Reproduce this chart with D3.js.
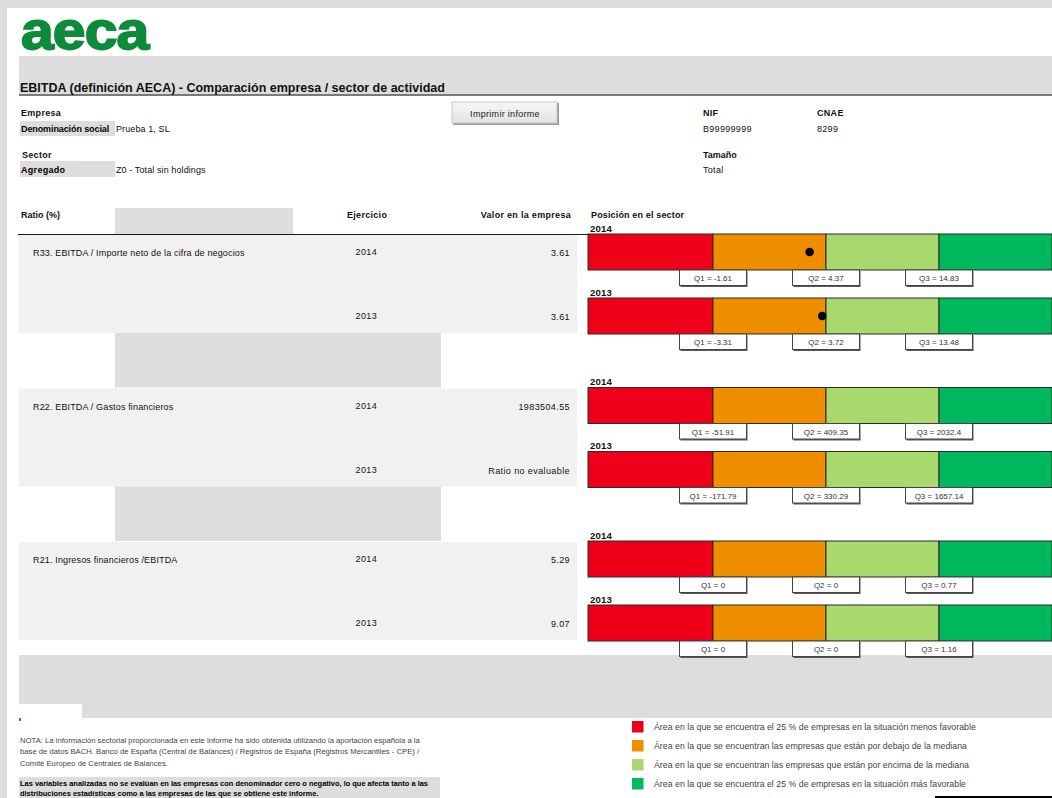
<!DOCTYPE html>
<html lang="es">
<head>
<meta charset="utf-8">
<title>EBITDA (definición AECA) - Comparación empresa / sector de actividad</title>
<script src="https://cdn.jsdelivr.net/npm/d3@7"></script>
<style>
  html, body { margin: 0; padding: 0; background: #ffffff; overflow: hidden; }
  svg { display: block; font-family: "Liberation Sans", Arial, sans-serif; }
</style>
</head>
<body>
<script>
// ---- Data ---------------------------------------------------------------
const ratioNames = [
  "R33. EBITDA / Importe neto de la cifra de negocios",
  "R22. EBITDA / Gastos financieros",
  "R21. Ingresos financieros /EBITDA"
];
const years = ["2014", "2013"];
// company value per ratio and year (null = not evaluable)
const companyValues = [[3.61, 3.61], [1983504.55, null], [5.29, 9.07]];
// sector quartiles per ratio and year
const q1Values = [[-1.61, -3.31], [-51.91, -171.79], [0, 0]];
const q2Values = [[4.37, 3.72], [409.35, 330.29], [0, 0]];
const q3Values = [[14.83, 13.48], [2032.4, 1657.14], [0.77, 1.16]];
const quartileNames = ["Q1", "Q2", "Q3"];

const zoneColors = ["#ee0019", "#ef8f00", "#a9d86e", "#00b95f"];
const legendLabels = [
  "Área en la que se encuentra el 25 % de empresas en la situación menos favorable",
  "Área en la que se encuentran las empresas que están por debajo de la mediana",
  "Área en la que se encuentran las empresas que están por encima de la mediana",
  "Área en la que se encuentra el 25 % de empresas en la situación más favorable"
];

const notaLines = [
  "NOTA: La información sectorial proporcionada en este informe ha sido obtenida utilizando la aportación española  a la",
  "base de datos BACH. Banco de España (Central de Balances) / Registros de España (Registros Mercantiles - CPE) /",
  "Comité Europeo de Centrales de Balances."
];
const avisoLines = [
  "Las variables analizadas no se evalúan en las empresas con denominador cero o negativo, lo que afecta tanto a las",
  "distribuciones estadísticas como a las empresas de las que se obtiene este informe."
];

// ---- Layout -------------------------------------------------------------
const W = 1052, H = 798;
const svg = d3.select("body").append("svg").attr("width", W).attr("height", H);

const GREY = "#dddddd", BAND = "#f1f1f1";

// page frame
svg.append("rect").attr("x", 0).attr("y", 0).attr("width", W).attr("height", H).attr("fill", "#ffffff");
svg.append("rect").attr("x", 0).attr("y", 0).attr("width", W).attr("height", 8).attr("fill", GREY);
svg.append("rect").attr("x", 0).attr("y", 0).attr("width", 7).attr("height", H).attr("fill", GREY);

// logo
svg.append("text").attr("transform", "translate(21,48.5) scale(1.1,1)")
  .attr("font-size", 53.5).attr("font-weight", "bold")
  .attr("fill", "#0d8b3b").attr("stroke", "#0d8b3b").attr("stroke-width", 1.8)
  .attr("letter-spacing", -0.8)
  .text("aeca");

// title bar
svg.append("rect").attr("x", 19).attr("y", 56).attr("width", W - 19).attr("height", 39).attr("fill", GREY);
svg.append("line").attr("x1", 19).attr("x2", W).attr("y1", 95).attr("y2", 95)
  .attr("stroke", "#7a7a7a").attr("stroke-width", 2);
svg.append("text").attr("x", 20).attr("y", 91.5).attr("font-size", 12.5).attr("font-weight", "bold")
  .attr("fill", "#111")
  .text("EBITDA (definición AECA) - Comparación empresa / sector de actividad");

function label(x, y, txt, opts = {}) {
  return svg.append("text").attr("x", x).attr("y", y)
    .attr("font-size", opts.size || 9)
    .attr("font-weight", opts.bold ? "bold" : "normal")
    .attr("fill", opts.fill || "#111")
    .attr("text-anchor", opts.anchor || "start")
    .attr("letter-spacing", opts.ls === undefined ? 0.3 : opts.ls)
    .text(txt);
}

// company block
label(21, 116, "Empresa", { bold: true });
svg.append("rect").attr("x", 20).attr("y", 121).attr("width", 95).attr("height", 15).attr("fill", GREY);
label(21, 131.5, "Denominación social", { bold: true, ls: -0.1, fill: "#000" });
label(116, 131.5, "Prueba 1, SL", { ls: 0.1 });
label(22, 158, "Sector", { bold: true });
svg.append("rect").attr("x", 20).attr("y", 161).attr("width", 95).attr("height", 16).attr("fill", GREY);
label(21, 172.5, "Agregado", { bold: true, fill: "#000" });
label(116, 172.5, "Z0 -  Total sin holdings", { ls: 0.1 });

// print button
const grad = svg.append("defs").append("linearGradient").attr("id", "btn")
  .attr("x1", 0).attr("x2", 0).attr("y1", 0).attr("y2", 1);
grad.append("stop").attr("offset", "0%").attr("stop-color", "#f6f6f6");
grad.append("stop").attr("offset", "100%").attr("stop-color", "#e3e3e3");
svg.append("rect").attr("x", 453).attr("y", 103).attr("width", 106).attr("height", 22).attr("fill", "#9a9a9a");
svg.append("rect").attr("x", 452).attr("y", 102).attr("width", 105).attr("height", 21)
  .attr("fill", "url(#btn)").attr("stroke", "#c8c8c8").attr("stroke-width", 1);
label(505, 116.5, "Imprimir informe", { anchor: "middle", fill: "#222" });

label(703, 116, "NIF", { bold: true });
label(703, 131.5, "B99999999");
label(817, 116, "CNAE", { bold: true });
label(817, 131.5, "8299");
label(703, 158, "Tamaño", { bold: true, ls: 0 });
label(703, 173, "Total");

// table header
svg.append("rect").attr("x", 115).attr("y", 208).attr("width", 178).attr("height", 26).attr("fill", GREY);
label(21, 217.5, "Ratio (%)", { bold: true, ls: 0 });
label(347, 217.5, "Ejercicio", { bold: true });
label(571, 217.5, "Valor en la empresa", { bold: true, anchor: "end" });
label(591, 217.5, "Posición en el sector", { bold: true, ls: 0.15 });

// ---- Scales -------------------------------------------------------------
// vertical position of each ratio group
const groupY = d3.scaleLinear().domain([0, ratioNames.length - 1]).range([234, 541]);
// offset of each year row inside a group
const yearOffset = d3.scalePoint().domain(years).range([0, 64]);
// horizontal extent of the four quartile zones
const zoneX = d3.scaleLinear().domain([0, 1, 2, 3, 4]).range([588, 713, 826, 939, 1052]);
const barH = 36;

// group backgrounds and grey spacers
ratioNames.forEach((name, i) => {
  const g0 = groupY(i);
  svg.append("rect").attr("x", 19).attr("y", g0 + 1).attr("width", 558).attr("height", 98).attr("fill", BAND);
  if (i < ratioNames.length - 1) {
    svg.append("rect").attr("x", 115).attr("y", g0 + 99).attr("width", 326)
      .attr("height", groupY(i + 1) - g0 - 99).attr("fill", GREY);
  }
});

// bottom grey area
svg.append("rect").attr("x", 19).attr("y", 655).attr("width", W - 19).attr("height", 49).attr("fill", GREY);
svg.append("rect").attr("x", 82).attr("y", 704).attr("width", W - 82).attr("height", 14).attr("fill", GREY);
svg.append("rect").attr("x", 19).attr("y", 718).attr("width", 2).attr("height", 3).attr("fill", "#1a9a1a");

// header rule
svg.append("line").attr("x1", 18).attr("x2", W).attr("y1", 234.5).attr("y2", 234.5)
  .attr("stroke", "#1a1a1a").attr("stroke-width", 1);

// ---- Ratio rows ---------------------------------------------------------
ratioNames.forEach((name, i) => {
  const g0 = groupY(i);
  label(33, g0 + 22, name, { ls: 0.15 });

  years.forEach((yr, j) => {
    const top = g0 + yearOffset(yr);
    const value = companyValues[i][j];
    const q = [q1Values[i][j], q2Values[i][j], q3Values[i][j]];

    // table cells
    label(355.5, top + 21, yr, { ls: 0.4 });
    label(570, top + 22, value === null ? "Ratio no evaluable" : value.toFixed(2), { anchor: "end", ls: 0.4 });

    // year caption above the bar
    label(590, top - 2.5, yr, { bold: true, size: 9.6, ls: 0.2 });

    // quartile zones
    const zones = svg.append("g");
    zones.selectAll("rect").data(zoneColors).join("rect")
      .attr("x", (d, k) => zoneX(k))
      .attr("y", top)
      .attr("width", (d, k) => zoneX(k + 1) - zoneX(k))
      .attr("height", barH)
      .attr("fill", d => d)
      .attr("stroke", "#2b2b2b").attr("stroke-width", 1);

    // quartile value boxes centred on each boundary
    const qb = svg.append("g");
    q.forEach((qv, k) => {
      const cx = zoneX(k + 1);
      qb.append("rect").attr("x", cx - 32.5).attr("y", top + barH + 1).attr("width", 67).attr("height", 16)
        .attr("fill", "#5a5a5a");
      qb.append("rect").attr("x", cx - 33.5).attr("y", top + barH).attr("width", 67).attr("height", 15.5)
        .attr("fill", "#ffffff").attr("stroke", "#444").attr("stroke-width", 1);
      qb.append("text").attr("x", cx).attr("y", top + barH + 11)
        .attr("text-anchor", "middle").attr("font-size", 8).attr("fill", "#333")
        .text(`${quartileNames[k]} = ${qv}`);
    });

    // company position, mapped piecewise between the sector quartiles
    if (value !== null) {
      const pos = d3.scaleLinear().domain(q).range([zoneX(1), zoneX(2), zoneX(3)]);
      const cx = pos(value);
      if (cx >= zoneX(0) && cx <= W) {
        svg.append("circle").attr("cx", cx - 2).attr("cy", top + barH / 2).attr("r", 4.3).attr("fill", "#000");
      }
    }
  });
});

// ---- Notes --------------------------------------------------------------
notaLines.forEach((t, k) => {
  svg.append("text").attr("x", 20).attr("y", 742.5 + k * 11.7).attr("font-size", 7.7).attr("fill", "#444").text(t);
});
svg.append("rect").attr("x", 19).attr("y", 777).attr("width", 421).attr("height", H - 777).attr("fill", GREY);
avisoLines.forEach((t, k) => {
  svg.append("text").attr("x", 20).attr("y", 785.5 + k * 10.5).attr("font-size", 7.45).attr("font-weight", "bold")
    .attr("fill", "#000").text(t);
});

// ---- Legend -------------------------------------------------------------
const legend = svg.append("g").attr("transform", "translate(632,721)");
const legRow = legend.selectAll("g").data(legendLabels).join("g")
  .attr("transform", (d, k) => `translate(0,${k * 19})`);
legRow.append("rect").attr("width", 11.5).attr("height", 11.5).attr("fill", (d, k) => zoneColors[k]);
legRow.append("text").attr("x", 22).attr("y", 8.8).attr("font-size", 8.8).attr("fill", "#444").text(d => d);

svg.append("line").attr("x1", 935).attr("x2", W).attr("y1", 797).attr("y2", 797)
  .attr("stroke", "#000").attr("stroke-width", 2);
</script>
</body>
</html>
